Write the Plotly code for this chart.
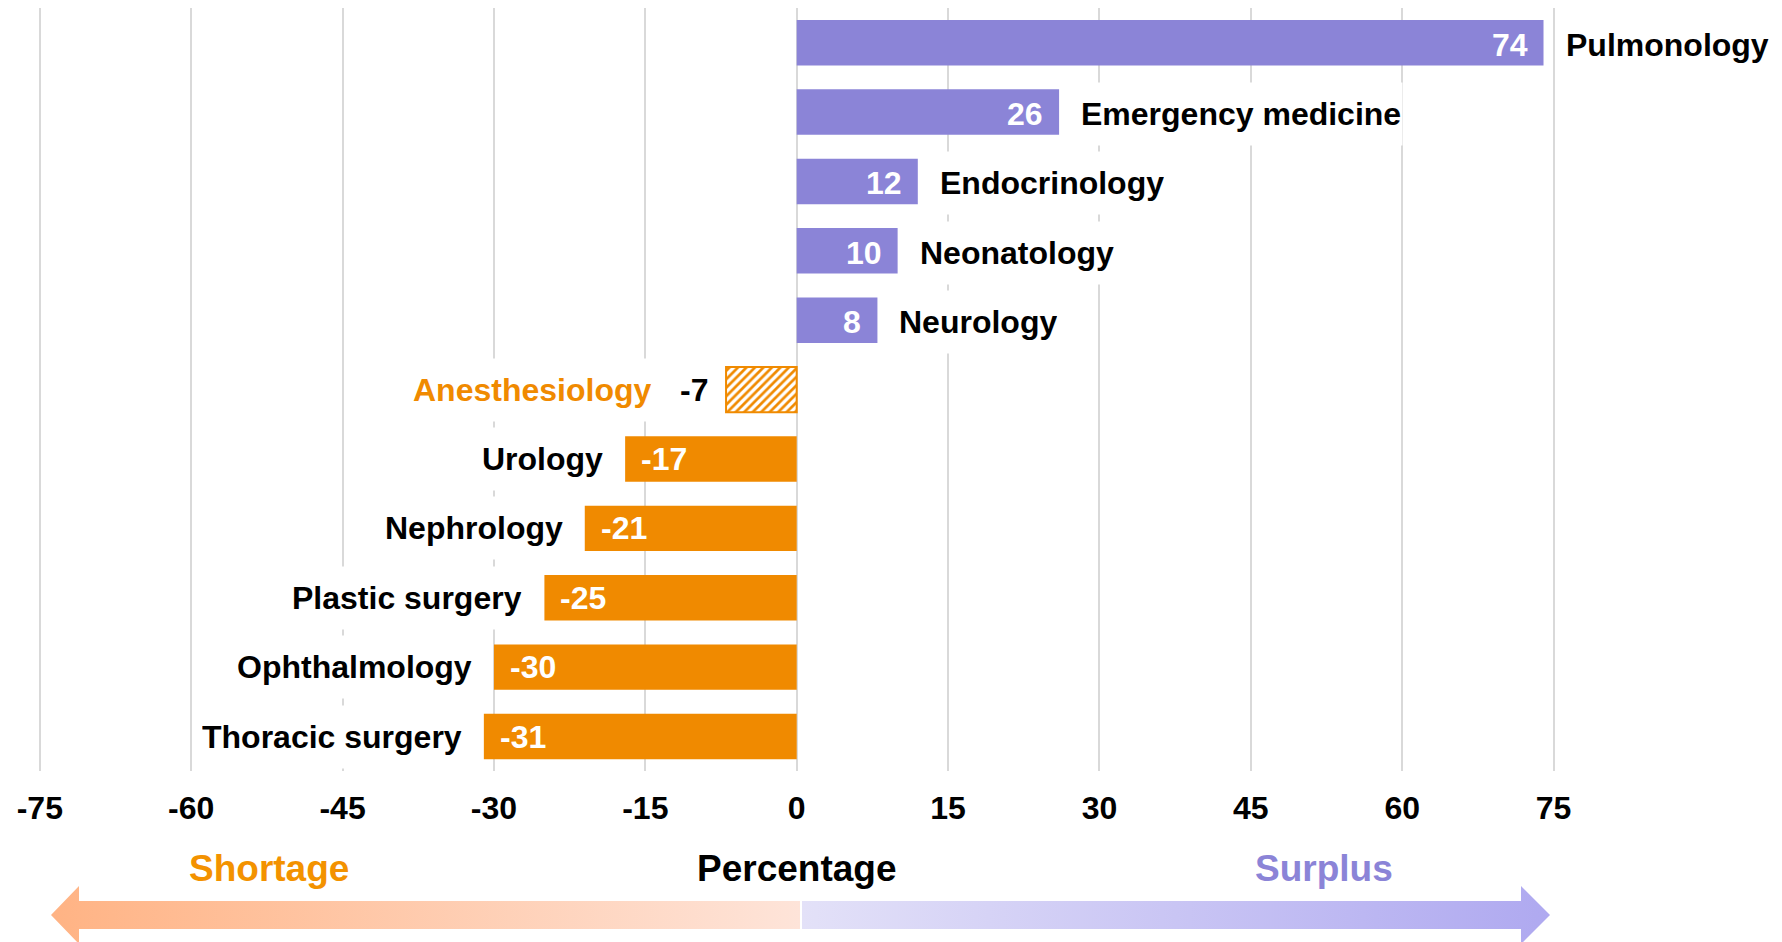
import plotly.graph_objects as go

# ---------------- data ----------------
categories = ["Pulmonology", "Emergency medicine", "Endocrinology", "Neonatology",
              "Neurology", "Anesthesiology", "Urology", "Nephrology",
              "Plastic surgery", "Ophthalmology", "Thoracic surgery"]
values = [74, 26, 12, 10, 8, -7, -17, -21, -25, -30, -31]
hatched = ["Anesthesiology"]
tick_vals = [-75, -60, -45, -30, -15, 0, 15, 30, 45, 60, 75]
tick_text = [str(v) for v in tick_vals]
axis_title = "Percentage"
left_label = "Shortage"
right_label = "Surplus"

# ---------------- style ----------------
OFF = 8                       # page body margin
W, H = 1782, 942
PURPLE = "#8B84D7"
ORANGE = "#F08A00"
GRID = "#D9D9D9"
FONT = "Liberation Sans, Arial, sans-serif"
FS = 32

solid_y, solid_x, solid_c = [], [], []
hat_y, hat_x, hat_c = [], [], []
for c, v in zip(categories, values):
    base = PURPLE if v > 0 else ORANGE
    if c in hatched:
        hat_y.append(c); hat_x.append(v); hat_c.append(base)
    else:
        solid_y.append(c); solid_x.append(v); solid_c.append(base)

fig = go.Figure()
fig.add_trace(go.Bar(
    x=solid_x, y=solid_y, orientation="h", width=0.655,
    marker=dict(color=solid_c, line=dict(width=0)),
    hoverinfo="skip", showlegend=False, xaxis="x", yaxis="y",
))
fig.add_trace(go.Bar(
    x=hat_x, y=hat_y, orientation="h", width=0.655,
    marker=dict(color=ORANGE, line=dict(color=ORANGE, width=2),
                pattern=dict(shape="/", fillmode="replace", bgcolor="white",
                             fgcolor=ORANGE, fgopacity=1, size=6, solidity=0.45)),
    hoverinfo="skip", showlegend=False, xaxis="x", yaxis="y",
))

annotations = []
def lab(x, y, text, anchor, shift, color, bg, ys=0):
    d = dict(x=x, y=y, xref="x", yref="y", text=text, xanchor=anchor,
             yanchor="middle", xshift=shift, yshift=ys, showarrow=False,
             font=dict(family=FONT, size=FS, color=color, weight=700))
    if bg:
        d.update(bgcolor="white", height=60)
    return d

for c, v in zip(categories, values):
    if c in hatched:
        annotations.append(lab(v, c, str(v), "right", -16, "black", True))
        annotations.append(lab(v, c, c, "right", -73, ORANGE, True))
    elif v > 0:
        annotations.append(lab(v, c, str(v), "right", -14, "white", False, -2))
        annotations.append(lab(v, c, c, "left", 20, "black", True, -2))
    else:
        annotations.append(lab(v, c, str(v), "left", 14, "white", False))
        annotations.append(lab(v, c, c, "right", -20, "black", True))

# ---------------- bottom arrows (pixel overlay axes) ----------------
ly, sh_top, sh_bot, hd_top, hd_bot = 915, 901, 929, 886, 944
left_x = [51, 79, 79, 800, 800, 79, 79, 51]
left_y = [ly, hd_top, sh_top, sh_top, sh_bot, sh_bot, hd_bot, ly]
right_x = [802, 1521, 1521, 1550, 1521, 1521, 802, 802]
right_y = [sh_top, sh_top, hd_top, ly, hd_bot, sh_bot, sh_bot, sh_top]

fig.add_trace(go.Scatter(
    x=left_x, y=left_y, mode="lines", fill="toself", line=dict(width=0),
    fillgradient=dict(type="horizontal", start=51, stop=800,
                      colorscale=[[0, "#FFB384"], [1, "#FEE4D9"]]),
    hoverinfo="skip", showlegend=False, xaxis="x2", yaxis="y2"))
fig.add_trace(go.Scatter(
    x=right_x, y=right_y, mode="lines", fill="toself", line=dict(width=0),
    fillgradient=dict(type="horizontal", start=802, stop=1550,
                      colorscale=[[0, "#E3E1F8"], [1, "#AFA9F0"]]),
    hoverinfo="skip", showlegend=False, xaxis="x2", yaxis="y2"))

annotations += [
    dict(x=269, y=868, xref="x2", yref="y2", text=left_label, showarrow=False,
         xanchor="center", yanchor="middle",
         font=dict(family=FONT, size=37, color="#F39200", weight=700)),
    dict(x=796.7, y=868, xref="x2", yref="y2", text=axis_title, showarrow=False,
         xanchor="center", yanchor="middle",
         font=dict(family=FONT, size=37, color="black", weight=700)),
    dict(x=1324, y=868, xref="x2", yref="y2", text=right_label, showarrow=False,
         xanchor="center", yanchor="middle",
         font=dict(family=FONT, size=37, color=PURPLE, weight=700)),
]

# main plot geometry (reference pixel coordinates, shifted by body margin)
pxu = (1553.6 - 39.8) / 150.0
ext = 0.3
x_left = 39.8 - ext * pxu - OFF
x_right = 1553.6 + ext * pxu - OFF
y_top = max(7.9 - OFF, 0)
y_bot = 771.2 - OFF

fig.update_layout(
    width=W, height=H,
    margin=dict(l=0, r=0, t=0, b=0),
    paper_bgcolor="white", plot_bgcolor="rgba(0,0,0,0)",
    showlegend=False, barmode="overlay",
    annotations=annotations,
    xaxis=dict(domain=[x_left / W, x_right / W], range=[-75 - ext, 75 + ext],
               tickvals=tick_vals, ticktext=tick_text,
               showgrid=True, gridcolor=GRID, gridwidth=1.5,
               zeroline=True, zerolinecolor=GRID, zerolinewidth=1.5,
               showline=False, ticks="outside", ticklen=8,
               tickcolor="rgba(0,0,0,0)", automargin=False,
               tickfont=dict(family=FONT, size=32, color="black", weight=700),
               anchor="y", fixedrange=True),
    yaxis=dict(domain=[1 - y_bot / H, 1 - y_top / H],
               categoryorder="array", categoryarray=categories,
               range=[10.5, -0.5], showticklabels=False, showgrid=False,
               zeroline=False, showline=False, automargin=False,
               anchor="x", fixedrange=True),
    xaxis2=dict(domain=[0, 1], range=[OFF, OFF + W], visible=False, anchor="y2",
                fixedrange=True),
    yaxis2=dict(domain=[0, 1], range=[OFF + H, OFF], visible=False, anchor="x2",
                fixedrange=True),
)

fig.write_html("out.html")
